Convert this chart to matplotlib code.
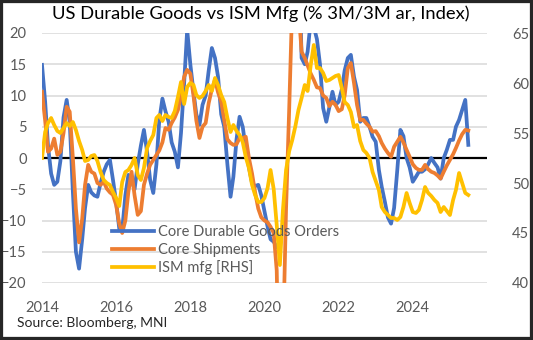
import matplotlib
matplotlib.use("Agg")
import matplotlib.pyplot as plt
import numpy as np
import pandas as pd
from matplotlib.patches import Rectangle

plt.rcParams['font.family'] = ['Lato', 'DejaVu Sans']

nan = np.nan

# Monthly, Jan 2014 - Jul 2025
dates = pd.date_range('2014-01-01', periods=139, freq='MS')

# Core durable goods orders, % 3M/3M annualised (no readings mid-2020)
core_orders = [
    14.9, 9, 2, -2.5, -4.3, -3.8, -0.5, 6.5, 9.3, 5.8, -5.4, -15,
    -17.7, -13, -8, -4.3, -5.5, -6, -6.2, -4, -2.2, -1, -0.3, -3.5,
    -7, -11.3, -11.5, -6, -2.7, -3.5, -5, -1, 2, 4.5, 1, -3.5,
    -5.6, -1, 6, 9.5, 7.5, 5.8, 2.5, 1, -1.5, 4, 12, 20.5,
    15, 10.6, 7, 5.3, 8.5, 10, 14, 17.6, 16, 13, 7, 5,
    -1, -6.2, -3, 3, 6.6, 5, 1.5, -1.5, -4, -4.5, -4.3, -6,
    -8.5, -11, -13, -13.4, -14.2, nan, nan, nan, nan, nan, nan, 35,
    16, 15, 17, 22, 21, 19, 15, 8, 5.8, 8.1, 10.6, 8.5,
    9, 11, 14, 16, 16.5, 13, 10.9, 5.8, 6.4, 6.4, 5, 3.4,
    2.6, -1.9, -4.6, -7, -9.5, -10.5, -8, -2, 4.5, 3.5, 0, -1.5,
    -3.8, -3, -2.2, -2.2, -1.8, -1, 0, -0.8, -1.5, -3.3, 0, 1.3,
    2.9, 2.9, 5, 6.1, 7.7, 9.3, 2.1,
]

# Core shipments, % 3M/3M annualised
core_shipments = [
    10.6, 6, 1, 1.5, 3.1, 0.5, 1, 4, 8.2, 7.4, 0, -8.1,
    -13.5, -9.7, -4.3, -1.1, -2.2, -2.5, -4, -4.3, -3.8, -4.9, -5.5, -5.9,
    -7.5, -10.5, -12, -10, -5.4, -2.2, -6, -9.1, -8.5, -4.3, -2.5, -1.1,
    -0.3, 0.5, 1.2, 2.5, 4.8, 4.5, 5.6, 6.5, 7.7, 10, 13, 14.1,
    13.5, 10, 6, 3.2, 5, 5.6, 8.8, 11, 12.5, 10.5, 9, 6,
    3, 2.4, 2.1, 2.2, 3.2, 3.2, 3.4, 0, -2.5, -5.5, -8.1, -9.5,
    -10, -10.3, -11, -12, -18, -45, -30, -8, 8, 25, 38, 24,
    17, 16, 14.8, 13.5, 12.5, 11.3, 11.2, 10, 9.6, 8.3, 9, 8.5,
    7.5, 7.8, 10, 14.4, 15.2, 12, 8.5, 6.1, 6.1, 5.5, 5, 4.2,
    4.3, 3.5, 2.4, 1.5, 0.8, 0.2, 1.8, 2.6, 3.4, 2.5, 1.3, 0.2,
    -1, -1.6, -1.9, -1.9, -1.1, -1.8, -2.2, -2.4, -2.8, -3.3, -2.2, -1.2,
    -0.3, 0.6, 1.6, 2.8, 3.8, 4.5, 4.4,
]

# ISM manufacturing index (right axis)
ism_mfg = [
    52.5, 55.1, 56, 56.5, 55.8, 55.2, 55, 55.5, 56, 55.7, 56.1, 55.3,
    54.2, 53.3, 52.2, 52.3, 52.7, 52.8, 52.2, 51.1, 50.3, 50, 49.8, 49.1,
    48.5, 47.7, 50.1, 51.1, 51.3, 51.8, 52.5, 50.8, 50.3, 51.5, 53.5, 54.2,
    54.8, 56.5, 56.8, 56.2, 56.8, 56.6, 56.5, 57.2, 58.6, 60.1, 57.9, 59.6,
    60, 59.8, 58.8, 58.5, 58.7, 59.2, 59.8, 59.2, 60.5, 59.8, 58.8, 58.1,
    56.5, 55.1, 55.8, 55.2, 54.8, 54.1, 52.6, 51.5, 49.8, 48.8, 48.1, 48.1,
    48.5, 49.5, 51.3, 49.4, 45.8, 41.8, 47.3, 51.3, 53.2, 54.3, 55.7, 57.3,
    58.5, 59.8, 59.2, 61.8, 63.8, 61.5, 61.5, 61, 60.2, 60.3, 60.5, 60.7,
    60.8, 59.5, 58.1, 57.8, 57.1, 55.6, 55.8, 54.2, 53.3, 53, 52.5, 51.1,
    50.2, 49.3, 47.6, 47.1, 46.8, 46.5, 46.5, 46.3, 46.6, 47.6, 49, 48,
    47.1, 47, 47.3, 48.3, 49.6, 49, 48.7, 48.3, 48, 47.1, 47.6, 47.2,
    46.8, 48.3, 49.3, 51, 50, 49, 48.8,
]

year_labels = ['2014', '2016', '2018', '2020', '2022', '2024']
series_names = ['Core Durable Goods Orders', 'Core Shipments', 'ISM mfg [RHS]']

fig = plt.figure(figsize=(5.33, 3.40), dpi=100)
ax = fig.add_axes([42 / 533, 57 / 340, 445 / 533, 250 / 340])
ax2 = ax.twinx()

grey = '#595959'
ax.set_ylim(-20, 20)
ax.set_yticks(range(-20, 21, 5))
ax2.set_ylim(40, 65)
ax2.set_yticks(range(40, 66, 5))
ax.set_xlim(pd.Timestamp('2014-01-01'), pd.Timestamp('2026-01-01'))
ax.set_xticks([pd.Timestamp(y + '-01-01') for y in year_labels])
ax.set_xticklabels(year_labels)

ax.grid(axis='y', color='#D9D9D9', lw=1.1)
ax.set_axisbelow(True)
ax.axhline(0, color='black', lw=1.6, zorder=1.5)

l1, = ax.plot(dates, core_orders, color='#4472C4', lw=2.7, solid_joinstyle='round')
l2, = ax.plot(dates, core_shipments, color='#ED7D31', lw=2.7, solid_joinstyle='round')
l3, = ax2.plot(dates, ism_mfg, color='#FFC000', lw=2.7, solid_joinstyle='round')

for a in (ax, ax2):
    for s in a.spines.values():
        s.set_visible(False)
ax.tick_params(axis='y', length=0, labelsize=10.5, labelcolor=grey, pad=11)
ax.tick_params(axis='x', length=0, labelsize=10.5, labelcolor=grey, pad=13)
ax2.tick_params(axis='y', length=0, labelsize=10.5, labelcolor=grey, pad=18)

fig.legend([l1, l2, l3], series_names, loc='upper left',
           bbox_to_anchor=(112 / 533, 1 - 225 / 340), frameon=False,
           fontsize=10.5, labelcolor=grey, handlelength=2.9,
           handletextpad=0.25, labelspacing=0.25, borderpad=0, borderaxespad=0)

fig.text(0.49, 1 - 14 / 340, 'US Durable Goods vs ISM Mfg (% 3M/3M ar, Index)',
         ha='center', va='center', fontsize=13.2, color='black')
fig.text(17 / 533, 1 - 323 / 340, 'Source: Bloomberg, MNI',
         ha='left', va='center', fontsize=10, color='#262626')

fig.add_artist(Rectangle((0, 0), 1, 1, transform=fig.transFigure, fill=False,
                         edgecolor='#262626', lw=4.5))

fig.savefig('out.png', dpi=100)
